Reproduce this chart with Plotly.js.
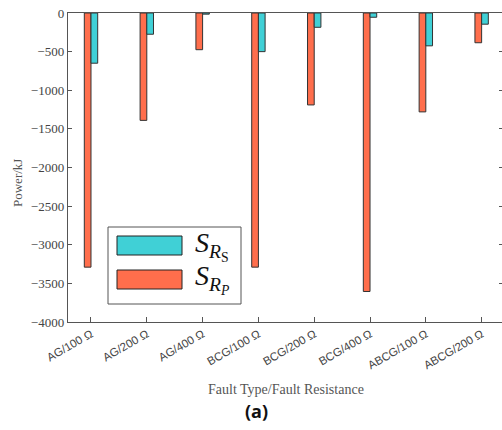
<!DOCTYPE html>
<html>
<head>
<meta charset="utf-8">
<script src="https://cdn.plot.ly/plotly-3.0.1.min.js"></script>
<style>html,body{margin:0;padding:0;overflow:hidden;background:#fff;}#chart{width:505px;height:430px;}</style>
</head>
<body>
<div id="chart"></div>
<script>
var categories = ["AG/100 Ω","AG/200 Ω","AG/400 Ω","BCG/100 Ω","BCG/200 Ω","BCG/400 Ω","ABCG/100 Ω","ABCG/200 Ω"];
var seriesRP = [-3290,-1390,-475,-3290,-1190,-3605,-1280,-385];
var seriesRS = [-650,-275,-15,-500,-185,-55,-425,-145];
var yTicks = [0,-500,-1000,-1500,-2000,-2500,-3000,-3500,-4000];

var cyan = "rgb(64,208,214)";
var orange = "rgb(255,110,76)";

var traces = [
  {type:"bar", x:categories, y:seriesRP, name:"S_RP", marker:{color:orange, line:{color:"#333", width:1}}, showlegend:false},
  {type:"bar", x:categories, y:seriesRS, name:"S_RS", marker:{color:cyan, line:{color:"#333", width:1}}, showlegend:false}
];

var gray = "#555";
var serif = "Liberation Serif";
var layout = {
  width:505, height:430,
  font:{family:serif},
  margin:{l:68, r:2, t:13, b:108},
  paper_bgcolor:"#fff", plot_bgcolor:"#fff",
  barmode:"group", bargap:0.76, bargroupgap:0,
  xaxis:{
    type:"category", range:[-0.412, 7.383],
    showline:true, linecolor:"#555", linewidth:1.2, mirror:true,
    ticks:"inside", ticklen:5, tickcolor:"#555",
    tickangle:-30, tickfont:{family:"Liberation Sans", size:11.5, color:"#444"},
    showgrid:false, zeroline:false
  },
  yaxis:{
    range:[-4000, 0], tickmode:"array", tickvals:yTicks,
    ticktext:yTicks.map(function(v){return v < 0 ? "\u2212" + Math.abs(v) : String(v);}),
    showline:true, linecolor:"#555", linewidth:1.2, mirror:"ticks",
    ticks:"inside", ticklen:4, tickcolor:"#555",
    tickfont:{family:"Liberation Serif", size:13, color:"#444"},
    showgrid:false, zeroline:false
  },
  shapes:[
    {type:"rect", xref:"paper", yref:"paper", x0:(108-68)/435, x1:(241-68)/435, y0:(322-304)/309, y1:(322-227)/309, line:{color:"#555", width:1}, fillcolor:"#fff"},
    {type:"rect", xref:"paper", yref:"paper", x0:(117-68)/435, x1:(182-68)/435, y0:(322-255)/309, y1:(322-236)/309, line:{color:"#222", width:1}, fillcolor:cyan},
    {type:"rect", xref:"paper", yref:"paper", x0:(117-68)/435, x1:(182-68)/435, y0:(322-289)/309, y1:(322-270)/309, line:{color:"#222", width:1}, fillcolor:orange}
  ],
  annotations:[
    {xref:"paper", yref:"paper", x:(193-68)/435, y:(322-246)/309, xanchor:"left", yanchor:"middle", showarrow:false,
     text:"<i>S</i><sub><i>R</i><sub>S</sub></sub>", font:{family:serif, size:28, color:"#111"}},
    {xref:"paper", yref:"paper", x:(193-68)/435, y:(322-279)/309, xanchor:"left", yanchor:"middle", showarrow:false,
     text:"<i>S</i><sub><i>R</i><sub><i>P</i></sub></sub>", font:{family:serif, size:28, color:"#111"}},
    {xref:"paper", yref:"paper", x:(17-68)/435, y:(322-183)/309, xanchor:"center", yanchor:"middle", showarrow:false, textangle:-90,
     text:"Power/kJ", font:{family:serif, size:13, color:gray}},
    {xref:"paper", yref:"paper", x:(286-68)/435, y:(322-389)/309, xanchor:"center", yanchor:"middle", showarrow:false,
     text:"Fault Type/Fault Resistance", font:{family:serif, size:14, color:gray}},
    {xref:"paper", yref:"paper", x:(256-68)/435, y:(322-411)/309, xanchor:"center", yanchor:"middle", showarrow:false,
     text:"<b>(a)</b>", font:{family:"Open Sans", size:18, color:"#111"}}
  ]
};
Plotly.newPlot("chart", traces, layout, {displayModeBar:false, staticPlot:true});
</script>
</body>
</html>
